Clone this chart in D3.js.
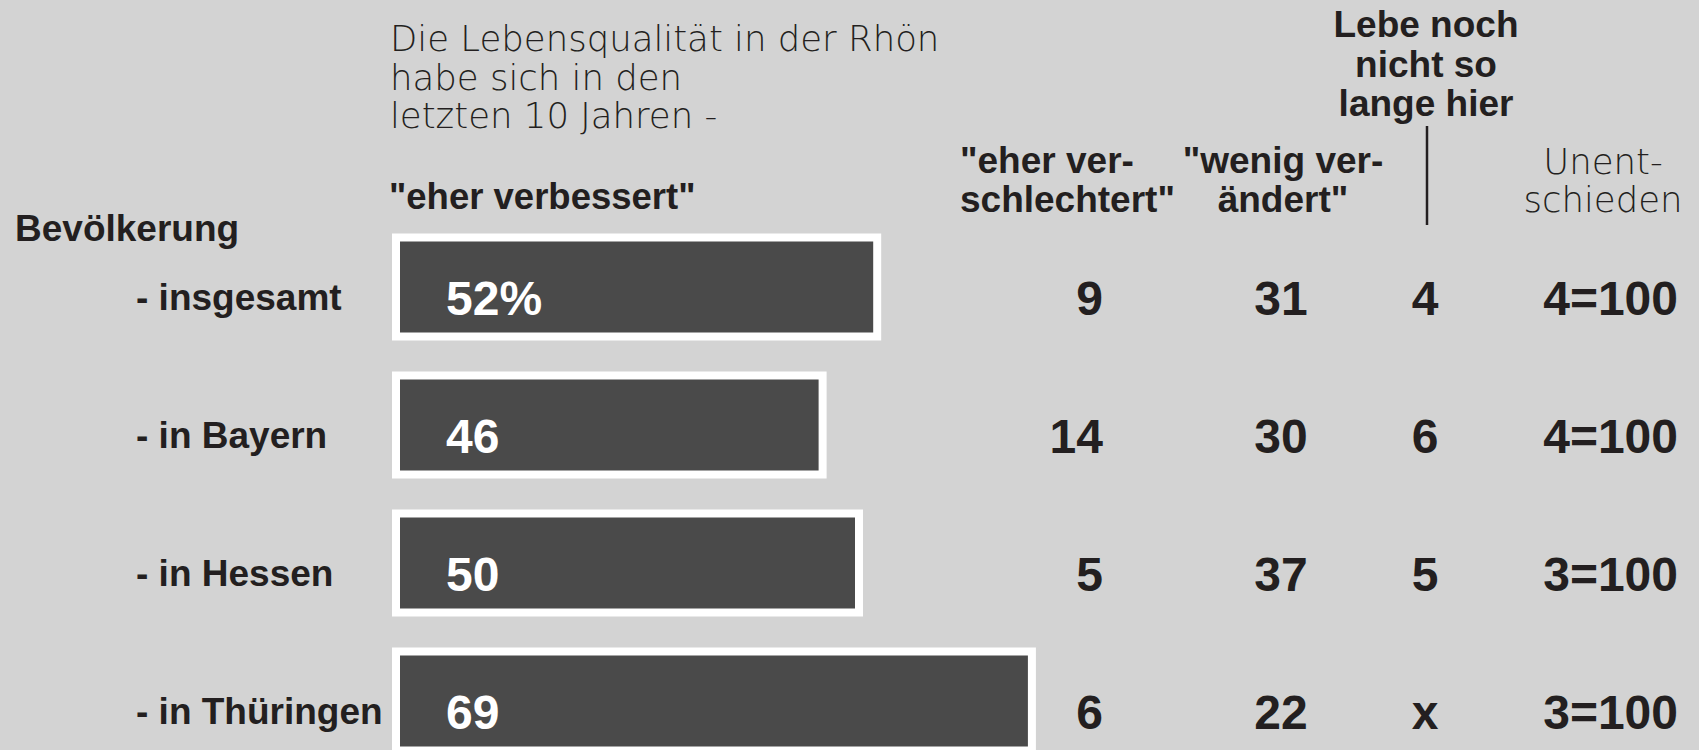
<!DOCTYPE html>
<html>
<head>
<meta charset="utf-8">
<script src="https://cdn.jsdelivr.net/npm/d3@7"></script>
<style>
  body { margin: 0; background: #d3d3d3; }
  svg { display: block; }
  .bold { font-family: "Liberation Sans", Arial, sans-serif; font-weight: bold; fill: #231f20; }
  .light { font-family: "DejaVu Sans", sans-serif; font-weight: 200; fill: #231f20; }
</style>
</head>
<body>
<svg width="1699" height="750"></svg>
<script>
// Lebensqualität in der Rhön - Anteile in %
var categories = ['- insgesamt', '- in Bayern', '- in Hessen', '- in Thüringen'];
var improved = [52, 46, 50, 69];      // "eher verbessert"
var worse = [9, 14, 5, 6];            // "eher verschlechtert"
var unchanged = [31, 30, 37, 22];     // "wenig verändert"
var newHere = ['4', '6', '5', 'x'];   // Lebe noch nicht so lange hier
var undecided = [4, 4, 3, 3];         // Unentschieden

var svg = d3.select('svg');
var width = Number(svg.attr('width'));
var height = Number(svg.attr('height'));

svg.append('rect')
    .attr('width', width)
    .attr('height', height)
    .attr('fill', '#d3d3d3');

var x = d3.scaleLinear().domain([0, 100]).range([400, 1310]);
var y = d3.scalePoint().domain(categories).range([287, 701]);
var barH = 91;
var frame = 8;

// title block
var title = ['Die Lebensqualität in der Rhön', 'habe sich in den', 'letzten 10 Jahren -'];
svg.append('g').selectAll('text')
    .data(title)
    .join('text')
    .attr('class', 'light')
    .attr('x', 390)
    .attr('y', function (d, i) { return 51 + i * 38.5; })
    .attr('font-size', 35.5)
    .text(function (d) { return d; });

svg.append('text')
    .attr('class', 'bold')
    .attr('x', 389)
    .attr('y', 209)
    .attr('font-size', 36.5)
    .text('"eher verbessert"');

svg.append('text')
    .attr('class', 'bold')
    .attr('x', 15)
    .attr('y', 241)
    .attr('font-size', 37)
    .text('Bevölkerung');

// column headers
function multiLine(lines, cx, y0, dy, cls, size, anchor) {
    svg.append('g').selectAll('text')
        .data(lines)
        .join('text')
        .attr('class', cls)
        .attr('x', cx)
        .attr('y', function (d, i) { return y0 + i * dy; })
        .attr('font-size', size)
        .attr('text-anchor', anchor)
        .text(function (d) { return d; });
}
multiLine(['"eher ver-', 'schlechtert"'], 960, 173, 39, 'bold', 37, 'start');
multiLine(['"wenig ver-', 'ändert"'], 1283, 173, 39, 'bold', 37, 'middle');
multiLine(['Lebe noch', 'nicht so', 'lange hier'], 1426, 37, 39.5, 'bold', 37, 'middle');
multiLine(['Unent-', 'schieden'], 1603, 174, 38, 'light', 35.5, 'middle');

svg.append('line')
    .attr('x1', 1427).attr('x2', 1427)
    .attr('y1', 126).attr('y2', 225)
    .attr('stroke', '#231f20')
    .attr('stroke-width', 2.5);

// rows
var rows = svg.append('g').selectAll('g')
    .data(categories)
    .join('g')
    .attr('transform', function (d) { return 'translate(0,' + y(d) + ')'; });

rows.append('text')
    .attr('class', 'bold')
    .attr('x', 136)
    .attr('y', 23)
    .attr('font-size', 37)
    .text(function (d) { return d; });

// white frame + dark bar
rows.append('rect')
    .attr('x', x(0) - frame)
    .attr('y', -barH / 2 - frame)
    .attr('width', function (d, i) { return x(improved[i]) - x(0) + frame * 2; })
    .attr('height', barH + frame * 2)
    .attr('fill', '#ffffff');

rows.append('rect')
    .attr('x', x(0))
    .attr('y', -barH / 2)
    .attr('width', function (d, i) { return x(improved[i]) - x(0); })
    .attr('height', barH)
    .attr('fill', '#4a4a4a');

rows.append('text')
    .attr('class', 'bold')
    .attr('x', 446)
    .attr('y', 28)
    .attr('font-size', 48)
    .style('fill', '#ffffff')
    .text(function (d, i) { return improved[i] + (i === 0 ? '%' : ''); });

function column(values, cx, anchor, fmt) {
    rows.append('text')
        .attr('class', 'bold')
        .attr('x', cx)
        .attr('y', 28)
        .attr('font-size', 48)
        .attr('text-anchor', anchor)
        .text(function (d, i) { return fmt(values[i]); });
}
column(worse, 1103, 'end', String);
column(unchanged, 1281, 'middle', String);
column(newHere, 1425, 'middle', String);
column(undecided, 1678, 'end', function (v) { return v + '=100'; });
</script>
</body>
</html>
